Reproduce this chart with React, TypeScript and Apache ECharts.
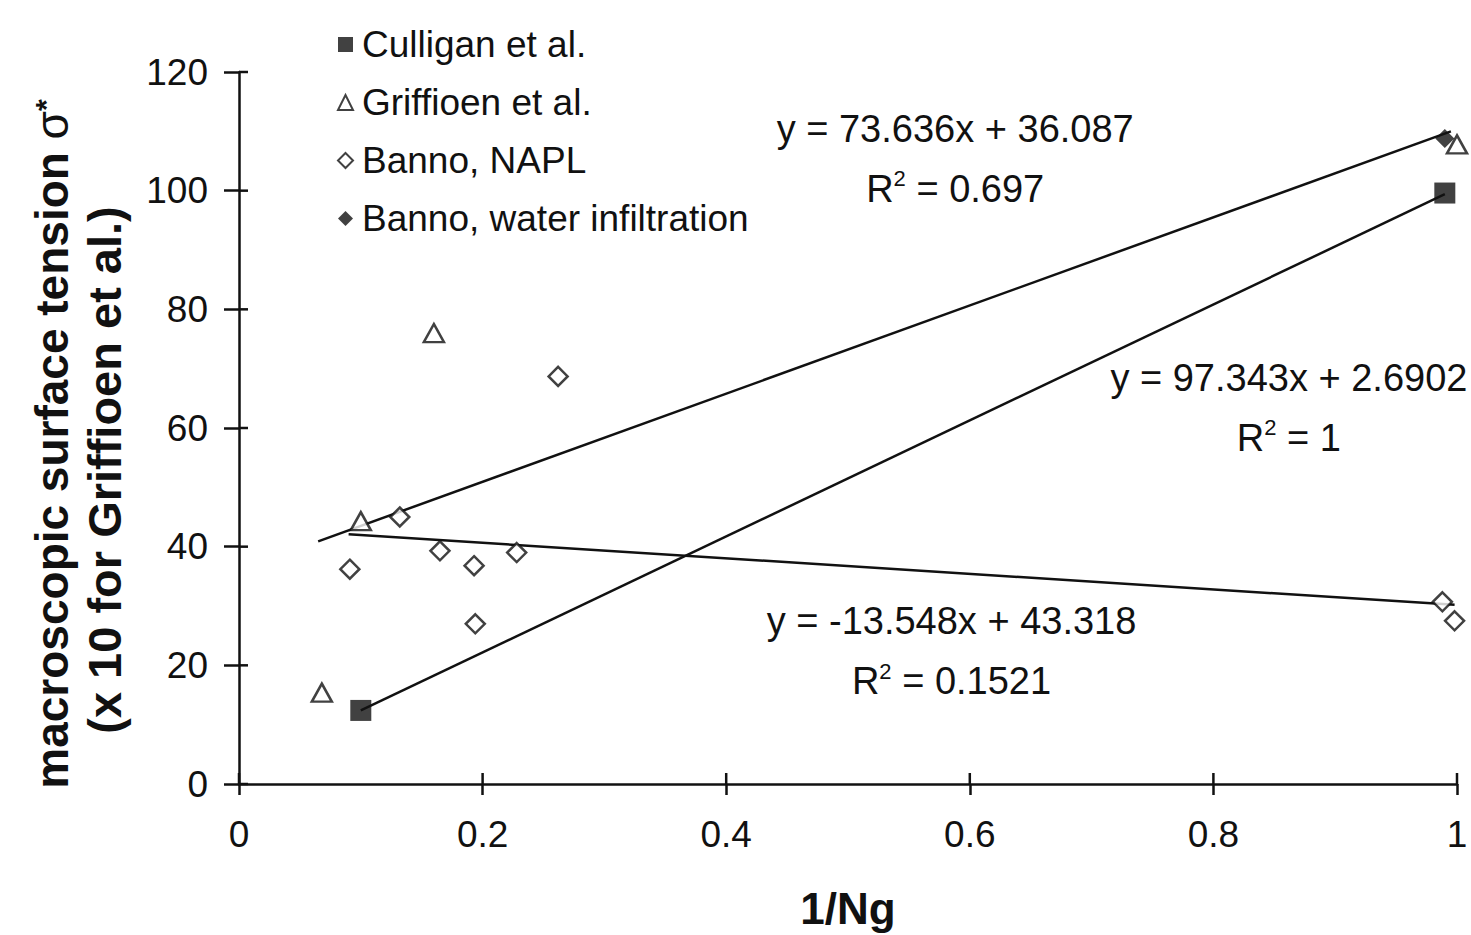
import React, { useEffect, useRef } from 'react';
import * as echarts from 'echarts';

const FONT = '"Liberation Sans", Arial, Helvetica, sans-serif';
const INK = '#111111';

// Axis ranges / ticks
const X_MIN = 0;
const X_MAX = 1;
const X_STEP = 0.2;
const Y_MIN = 0;
const Y_MAX = 120;
const Y_STEP = 20;
const xTickValues = [0, 0.2, 0.4, 0.6, 0.8, 1];
const yTickValues = [0, 20, 40, 60, 80, 100, 120];

// Series names
const NAMES = ['Culligan et al.', 'Griffioen et al.', 'Banno, NAPL', 'Banno, water infiltration'];

// Measured points (x = 1/Ng, y = macroscopic surface tension)
const culliganX = [0.1, 0.99];
const culliganY = [12.4, 99.6];

const griffioenX = [0.068, 0.1, 0.16, 1.0];
const griffioenY = [15.4, 44.3, 76.0, 107.8];

const bannoNaplX = [0.091, 0.132, 0.165, 0.193, 0.194, 0.228, 0.262, 0.988, 0.998];
const bannoNaplY = [36.2, 45.0, 39.3, 36.8, 27.0, 39.0, 68.7, 30.7, 27.5];

const bannoWaterX = [0.99];
const bannoWaterY = [108.8];

// Trend line end points (as drawn)
const fitGriffX = [0.065, 0.995];
const fitGriffY = [40.9, 110.0];
const fitCullX = [0.1, 0.99];
const fitCullY = [12.4, 99.4];
const fitNaplX = [0.09, 0.998];
const fitNaplY = [42.1, 30.2];

// Trend line equation labels
const eqGriff = ['y = 73.636x + 36.087', '0.697'];
const eqCull = ['y = 97.343x + 2.6902', '1'];
const eqNapl = ['y = -13.548x + 43.318', '0.1521'];
// label anchors in data coordinates
const eqGriffAt = [0.588, 105.4];
const eqCullAt = [0.862, 63.4];
const eqNaplAt = [0.585, 22.4];

const zip = (xs: number[], ys: number[]) => xs.map((x, i) => [x, ys[i]]);

const eqLabel = (eq: string[], at: number[]) => ({
  symbol: 'circle',
  symbolSize: 0,
  silent: true,
  data: [{ coord: at }],
  label: {
    show: true,
    position: 'inside',
    formatter: `${eq[0]}\nR{sup|2} = ${eq[1]}`,
    color: INK,
    fontFamily: FONT,
    fontSize: 38,
    lineHeight: 60,
    align: 'center',
    rich: {
      sup: { fontSize: 22, verticalAlign: 'top', padding: [9, 0, 0, 0], color: INK, fontFamily: FONT },
    },
  },
});

const trendLine = (xs: number[], ys: number[], eq: string[], at: number[]) => ({
  type: 'line',
  data: zip(xs, ys),
  symbol: 'none',
  silent: true,
  lineStyle: { color: INK, width: 2.5 },
  z: 2,
  markPoint: eqLabel(eq, at),
});

// inner halves of the crossing tick marks: [x, y, kind] kind 0 = y-axis tick, 1 = x-axis tick
const innerTickData = [
  ...yTickValues.map((v) => [X_MIN, v, 0]),
  ...xTickValues.map((v) => [v, Y_MIN, 1]),
];

const option = {
  animation: false,
  backgroundColor: '#ffffff',
  textStyle: { fontFamily: FONT, color: INK },
  grid: { left: 239, right: 14, top: 72, bottom: 142 },
  legend: {
    orient: 'vertical',
    left: 332,
    top: 21,
    itemWidth: 15,
    itemHeight: 15,
    itemGap: 21,
    data: NAMES,
    textStyle: { fontFamily: FONT, fontSize: 37, lineHeight: 37, color: INK, padding: [0, 0, 0, 4] },
    selectedMode: false,
  },
  xAxis: {
    type: 'value',
    min: X_MIN,
    max: X_MAX,
    interval: X_STEP,
    axisLine: { show: true, lineStyle: { color: INK, width: 2.5 } },
    axisTick: { show: true, length: 11, lineStyle: { color: INK, width: 2.5 } },
    splitLine: { show: false },
    axisLabel: { fontFamily: FONT, fontSize: 37, color: INK, margin: 32 },
    name: '1/Ng',
    nameLocation: 'middle',
    nameGap: 102,
    nameTextStyle: { fontFamily: FONT, fontSize: 44, fontWeight: 'bold', color: INK },
  },
  yAxis: {
    type: 'value',
    min: Y_MIN,
    max: Y_MAX,
    interval: Y_STEP,
    axisLine: { show: true, lineStyle: { color: INK, width: 2.5 } },
    axisTick: { show: true, length: 15, lineStyle: { color: INK, width: 2.5 } },
    splitLine: { show: false },
    axisLabel: { fontFamily: FONT, fontSize: 37, color: INK, margin: 31 },
  },
  graphic: [
    {
      type: 'text',
      x: 52,
      y: 444,
      rotation: Math.PI / 2,
      silent: true,
      style: {
        text: 'macroscopic surface tension {s|σ}{sup|*}',
        fontFamily: FONT,
        fontSize: 46,
        fontWeight: 'bold',
        fill: INK,
        align: 'center',
        verticalAlign: 'middle',
        rich: {
          s: { fontFamily: FONT, fontSize: 46, fontWeight: 'normal', fill: INK, lineHeight: 52 },
          sup: { fontFamily: FONT, fontSize: 30, fontWeight: 'bold', fill: INK, verticalAlign: 'top', padding: [4, 0, 0, 0] },
        },
      },
    },
    {
      type: 'text',
      x: 104,
      y: 470,
      rotation: Math.PI / 2,
      silent: true,
      style: {
        text: '(x 10 for Griffioen et al.)',
        fontFamily: FONT,
        fontSize: 47,
        fontWeight: 'bold',
        fill: INK,
        align: 'center',
        verticalAlign: 'middle',
      },
    },
  ],
  series: [
    {
      type: 'custom',
      silent: true,
      clip: false,
      z: 3,
      data: innerTickData,
      renderItem: (_params: any, api: any) => {
        const p = api.coord([api.value(0), api.value(1)]);
        const kind = api.value(2);
        const shape =
          kind === 0
            ? { x1: p[0], y1: p[1], x2: p[0] + 9, y2: p[1] }
            : { x1: p[0], y1: p[1], x2: p[0], y2: p[1] - 11 };
        return { type: 'line', shape, style: { stroke: INK, lineWidth: 2.5 } };
      },
    },
    trendLine(fitGriffX, fitGriffY, eqGriff, eqGriffAt),
    trendLine(fitCullX, fitCullY, eqCull, eqCullAt),
    trendLine(fitNaplX, fitNaplY, eqNapl, eqNaplAt),
    {
      name: NAMES[0],
      type: 'scatter',
      data: zip(culliganX, culliganY),
      symbol: 'rect',
      symbolSize: 21,
      itemStyle: { color: INK },
      z: 5,
    },
    {
      name: NAMES[1],
      type: 'scatter',
      data: zip(griffioenX, griffioenY),
      symbol: 'triangle',
      symbolSize: [20, 18],
      itemStyle: { color: '#ffffff', borderColor: INK, borderWidth: 2.5 },
      z: 4,
    },
    {
      name: NAMES[2],
      type: 'scatter',
      data: zip(bannoNaplX, bannoNaplY),
      symbol: 'diamond',
      symbolSize: 19,
      itemStyle: { color: '#ffffff', borderColor: INK, borderWidth: 2.5 },
      z: 4,
    },
    {
      name: NAMES[3],
      type: 'scatter',
      data: zip(bannoWaterX, bannoWaterY),
      symbol: 'diamond',
      symbolSize: 19,
      itemStyle: { color: INK },
      z: 6,
    },
  ],
};

export default function App() {
  const ref = useRef<HTMLDivElement>(null);
  useEffect(() => {
    if (!ref.current) return;
    const chart = echarts.init(ref.current, null, { renderer: 'svg' });
    chart.setOption(option as any);
    return () => chart.dispose();
  }, []);
  return (
    <div
      ref={ref}
      style={{ position: 'fixed', left: 0, top: 0, width: 1471, height: 935, background: '#ffffff' }}
    />
  );
}
